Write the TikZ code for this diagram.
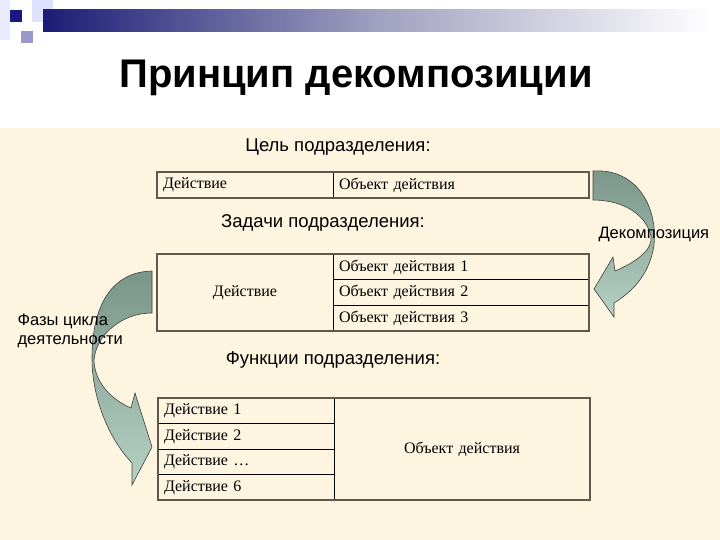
\documentclass[tikz,border=0pt]{standalone}
\usepackage{fontspec}
\setmainfont{Liberation Serif}
\newfontfamily\labfont{Liberation Sans}
\usepackage{tikz}
\usetikzlibrary{arrows.meta}
\definecolor{cream}{RGB}{254,245,224}
\definecolor{navyband}{RGB}{28,28,118}
\definecolor{bandmid}{RGB}{160,160,192}
\definecolor{framecol}{RGB}{96,88,74}
\definecolor{arrowdark}{RGB}{122,150,136}
\definecolor{arrowmid}{RGB}{150,178,164}
\definecolor{arrowlight}{RGB}{182,210,197}

\begin{document}
\begin{tikzpicture}[x=1pt, y=-1pt,
    cell/.style={draw, line width=0.9pt, anchor=north west, inner xsep=6pt, inner ysep=0pt, outer sep=0pt,
      font=\fontsize{16pt}{18pt}\selectfont},
    head/.style={font=\labfont\fontsize{18.5pt}{21pt}\selectfont},
    side/.style={font=\labfont\fontsize{16.5pt}{19pt}\selectfont, align=left, anchor=west},
    frame/.style={draw=framecol, line width=2pt},
    curlarrow/.style={draw=black!75, line width=0.6pt, top color=arrowdark, bottom color=arrowlight, middle color=arrowmid}]
  \useasboundingbox (0,0) rectangle (720,540);
  \fill[white] (0,0) rectangle (720,128);
  \fill[cream] (0,128) rectangle (720,540);
  \fill[blue!8] (0,0) rectangle (10,40);
  \fill[blue!12] (32,0) rectangle (53,22);
  \shade[left color=navyband, right color=white, middle color=bandmid] (43,10) rectangle (710,32);
  \fill[navyband!90!blue] (10,10) rectangle (22,22);
  \fill[blue!35!gray!60] (21,31) rectangle (33,43);
  \node[font=\labfont\bfseries\fontsize{40pt}{44pt}\selectfont] (title) at (356,78) {Принцип декомпозиции};

  \shade[curlarrow] (593,171) .. controls (635,168) and (658,205) .. (654,245)
    .. controls (650,272) and (635,290) .. (614,303) -- (614,317) -- (594,289) -- (613,257) -- (615,271)
    .. controls (636,262) and (653,250) .. (651,236)
    .. controls (645,212) and (620,200) .. (593,200) -- cycle;
  \shade[curlarrow] (152,271) .. controls (112,272) and (92,305) .. (92,358)
    .. controls (92,400) and (110,440) .. (132,463) -- (132,485) -- (152,447) -- (135,393) -- (131,408)
    .. controls (112,400) and (95,383) .. (94,361)
    .. controls (95,337) and (120,313) .. (152,313) -- cycle;

  \node[head] (goal) at (338,147) {Цель подразделения:};
  \node[cell, text width=164pt, minimum height=26pt, align=left] (ga) at (157,172) {Действие};
  \node[cell, text width=244pt, minimum height=26pt, align=left] (gb) at (ga.north east) {Объект действия};
  \draw[frame] (ga.north west) rectangle (gb.south east);

  \node[head] (tasks) at (323,223) {Задачи подразделения:};
  \node[cell, text width=164pt, minimum height=77pt, align=center] (ta) at (157,254) {Действие};
  \node[cell, text width=244pt, minimum height=25.67pt, align=left] (tb1) at (ta.north east) {Объект действия 1};
  \node[cell, text width=244pt, minimum height=25.67pt, align=left] (tb2) at (tb1.south west) {Объект действия 2};
  \node[cell, text width=244pt, minimum height=25.67pt, align=left] (tb3) at (tb2.south west) {Объект действия 3};
  \draw[frame] (ta.north west) rectangle (tb3.south east);

  \node[head] (funcs) at (333,360) {Функции подразделения:};
  \node[cell, text width=164pt, minimum height=25.5pt, align=left] (fa1) at (158,398) {Действие 1};
  \node[cell, text width=164pt, minimum height=25.5pt, align=left] (fa2) at (fa1.south west) {Действие 2};
  \node[cell, text width=164pt, minimum height=25.5pt, align=left] (fa3) at (fa2.south west) {Действие …};
  \node[cell, text width=164pt, minimum height=25.5pt, align=left] (fa4) at (fa3.south west) {Действие 6};
  \node[cell, text width=244pt, minimum height=102pt, align=center] (fb) at (fa1.north east) {Объект действия};
  \draw[frame] (fa1.north west) rectangle (fb.south east);

  \node[side] (decomp) at (595,234) {Декомпозиция};
  \node[side] (phases) at (14,331) {Фазы цикла\\деятельности};
\end{tikzpicture}
\end{document}
